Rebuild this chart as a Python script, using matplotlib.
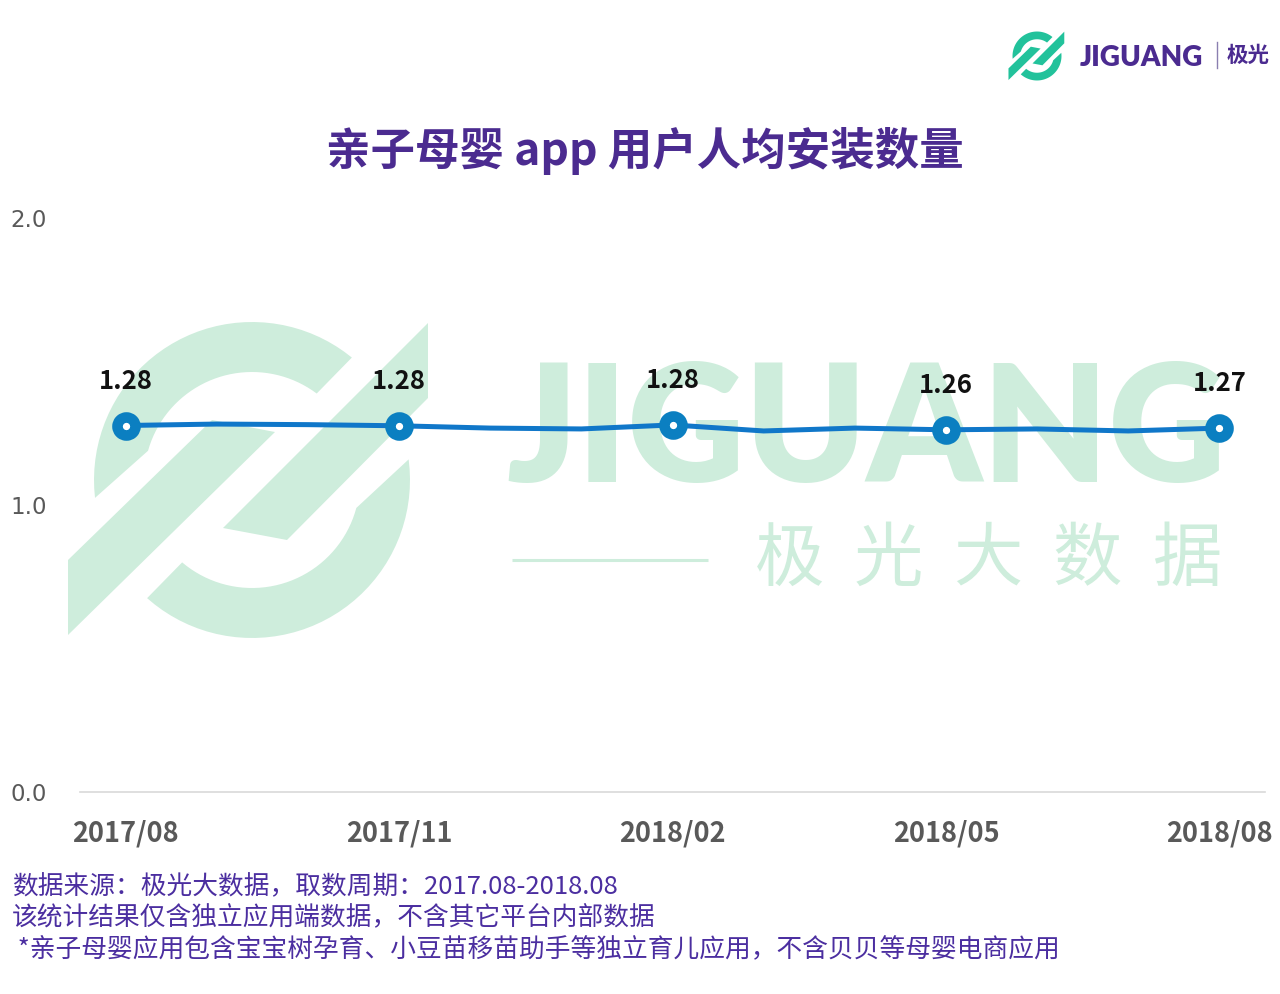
import numpy as np
import matplotlib
matplotlib.use('Agg')
import matplotlib.pyplot as plt
from matplotlib.patches import Polygon

plt.rcParams['font.family'] = ['Noto Sans CJK SC', 'DejaVu Sans']

# ---------------- data ----------------
months = ['2017/08', '2017/09', '2017/10', '2017/11', '2017/12', '2018/01', '2018/02',
          '2018/03', '2018/04', '2018/05', '2018/06', '2018/07', '2018/08']
values = [1.277, 1.282, 1.280, 1.276, 1.268, 1.265, 1.279,
          1.258, 1.268, 1.262, 1.265, 1.258, 1.268]
tick_months = ['2017/08', '2017/11', '2018/02', '2018/05', '2018/08']
y_ticks = [0.0, 1.0, 2.0]
title = '亲子母婴 app 用户人均安装数量'
notes = ['数据来源：极光大数据，取数周期：2017.08-2018.08',
         '该统计结果仅含独立应用端数据，不含其它平台内部数据',
         ' *亲子母婴应用包含宝宝树孕育、小豆苗移苗助手等独立育儿应用，不含贝贝等母婴电商应用']

W, H = 1280, 994
fig = plt.figure(figsize=(W / 100, H / 100), dpi=100)

# background layer in pixel coordinates (y down)
bg = fig.add_axes([0, 0, 1, 1], zorder=0)
bg.set_xlim(0, W)
bg.set_ylim(H, 0)
bg.axis('off')

WM = '#ceeddc'
PURPLE = '#4b2b90'


def logo_polys(cx, cy, s):
    """Logo shapes around center (cx, cy) in screen pixels, scale s."""
    polys = []
    R, r = 158, 108

    def arc(a0, a1, rad, n=40):
        t = np.radians(np.linspace(a0, a1, n))
        return np.column_stack([rad * np.cos(t), -rad * np.sin(t)])

    up = np.vstack([arc(50.8, 186.5, R), arc(164.3, 53.2, r)])
    lo = np.vstack([arc(228.4, 367.5, R), arc(345.0, 229.7, r)])
    b1 = np.array([(68, 560), (212, 420), (275, 432), (68, 635)], float) - [252, 480]
    b2 = np.array([(223, 528), (428, 323), (428, 398), (287, 540)], float) - [252, 480]
    for p in (up, lo, b1, b2):
        polys.append(p * s + [cx, cy])
    return polys


# watermark logo
for p in logo_polys(252, 480, 1.0):
    bg.add_patch(Polygon(p, closed=True, facecolor=WM, edgecolor='none'))
bg.text(866, 482, 'JIGUANG', fontsize=117, fontweight='heavy', family='Lato',
        color=WM, ha='center', va='baseline')
for ch, x in zip('极光大数据', [790, 888, 988, 1087, 1187]):
    bg.text(x, 560, ch, fontsize=50, fontweight='medium', color=WM,
            ha='center', va='center')
bg.plot([512, 708], [560, 560], color=WM, lw=2.2, solid_capstyle='butt')

# top-right brand logo
for p in logo_polys(1037, 56, 0.155):
    bg.add_patch(Polygon(p, closed=True, facecolor='#22c29b', edgecolor='none'))
bg.text(1080, 66, 'JIGUANG', fontsize=20, fontweight='heavy', family='Lato',
        color=PURPLE, ha='left', va='baseline')
bg.plot([1217, 1217], [42, 68], color='#8a7fb0', lw=1)
bg.text(1227, 55, '极光', fontsize=15.5, fontweight='bold', color=PURPLE,
        ha='left', va='center')

# title
bg.text(645, 151, title, fontsize=32, fontweight='bold', color=PURPLE,
        ha='center', va='center')

# footnotes
for i, line in enumerate(notes):
    bg.text(12, 887 + 31 * i, line, fontsize=18.5, color='#4b2ea0',
            ha='left', va='center')

# ---------------- main chart ----------------
ax = fig.add_axes([80 / W, 1 - 792 / H, (1265 - 80) / W, (792 - 218) / H], zorder=1)
ax.patch.set_alpha(0)
x = np.arange(len(months))
ax.plot(x, values, color='#1077c9', lw=3.6, solid_capstyle='round', zorder=2)
idx = [months.index(m) for m in tick_months]
ax.plot(x[idx], [values[i] for i in idx], linestyle='none', marker='o',
        markersize=13, markeredgewidth=7.6, markerfacecolor='white',
        markeredgecolor='#0b7fc1', zorder=3)
for i in idx:
    ax.annotate(f'{values[i]:.2f}', (x[i], values[i]), xytext=(0, 32),
                textcoords='offset points', ha='center', va='center',
                fontsize=18.5, fontweight='bold', color='#111111')

ax.set_xlim(-0.5, len(months) - 0.5)
ax.set_ylim(0, 2)
ax.set_xticks(x[idx])
ax.set_xticklabels(tick_months, fontsize=19.5, fontweight='bold', color='#595959')
ax.set_yticks(y_ticks)
ax.set_yticklabels([f'{v:.1f}' for v in y_ticks], fontsize=16.5, color='#595959',
                   family='DejaVu Sans')
ax.tick_params(axis='both', length=0)
ax.tick_params(axis='y', pad=24)
ax.tick_params(axis='x', pad=20)
for side in ('top', 'right', 'left'):
    ax.spines[side].set_visible(False)
ax.spines['bottom'].set_color('#d9d9d9')
ax.spines['bottom'].set_linewidth(1.2)

fig.savefig('out.png', dpi=100)
